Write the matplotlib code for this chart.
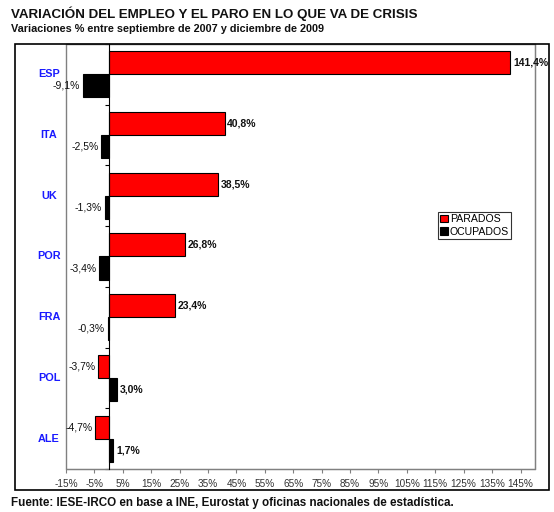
import matplotlib.pyplot as plt
from matplotlib.patches import Rectangle
import numpy as np

plt.rcParams['font.family'] = ['Liberation Sans', 'DejaVu Sans']

paises = ["ESP", "ITA", "UK", "POR", "FRA", "POL", "ALE"]
parados = [141.4, 40.8, 38.5, 26.8, 23.4, -3.7, -4.7]
ocupados = [-9.1, -2.5, -1.3, -3.4, -0.3, 3.0, 1.7]
xticks = list(range(-15, 150, 10))


def etiqueta(v):
    return ("%.1f%%" % v).replace(".", ",")


fig = plt.figure(figsize=(5.54, 5.12), dpi=100)
ax = fig.add_axes([0.1191, 0.0840, 0.8461, 0.8301])

y = np.arange(len(paises))
h = 0.38
ax.barh(y - h / 2, parados, height=h, color="#ff0000", edgecolor="black",
        linewidth=0.8, label="PARADOS")
ax.barh(y + h / 2, ocupados, height=h, color="black", edgecolor="black",
        linewidth=0.8, label="OCUPADOS")

for serie, off in ((parados, -h / 2), (ocupados, h / 2)):
    for i, v in enumerate(serie):
        if v >= 0:
            ax.annotate(etiqueta(v), (v, i + off), xytext=(2, 0),
                        textcoords="offset points", ha="left", va="center",
                        fontsize=7.5, fontweight="bold", color="#111111")
        else:
            ax.annotate(etiqueta(v), (v, i + off), xytext=(-2, 0),
                        textcoords="offset points", ha="right", va="center",
                        fontsize=7.5, color="#111111")

ax.set_xlim(-15, 150)
ax.set_ylim(len(paises) - 0.5, -0.5)
ax.set_xticks(xticks)
ax.set_xticklabels(["%d%%" % t for t in xticks])
ax.tick_params(axis="x", length=3, width=0.8, color="#808080",
               labelsize=7.2, labelcolor="#333333", pad=4)

# eje vertical en el cero con marcas entre paises
ax.spines["left"].set_position(("data", 0))
ax.spines["left"].set_color("black")
ax.spines["left"].set_zorder(3)
ax.set_yticks(np.arange(len(paises) + 1) - 0.5)
ax.set_yticklabels([])
ax.tick_params(axis="y", length=3, width=0.8, direction="out")
for s in ("top", "right", "bottom"):
    ax.spines[s].set_color("#808080")
ax.add_patch(Rectangle((0, 0), 1, 1, transform=ax.transAxes, fill=False,
                       edgecolor="#808080", linewidth=1, clip_on=False))

for i, p in enumerate(paises):
    ax.text(-0.036, i, p, transform=ax.get_yaxis_transform(), ha="center",
            va="center", fontsize=7.8, fontweight="bold", color="#1a1aff")

leg = ax.legend(loc="upper left", bbox_to_anchor=(0.794, 0.604), fontsize=7.6,
                frameon=True, fancybox=False, handlelength=0.7,
                handleheight=0.7, handletextpad=0.2, borderpad=0.2,
                labelspacing=0.2, borderaxespad=0)
leg.get_frame().set_edgecolor("black")
leg.get_frame().set_linewidth(0.8)

fig.patches.append(Rectangle((0.0271, 0.043), 0.9633, 0.8711,
                             transform=fig.transFigure, fill=False,
                             edgecolor="black", linewidth=1.2))

fig.text(0.02, 0.974, "VARIACIÓN DEL EMPLEO Y EL PARO EN LO QUE VA DE CRISIS",
         fontsize=9.6, fontweight="bold", va="center", color="#111111")
fig.text(0.02, 0.943, "Variaciones % entre septiembre de 2007 y diciembre de 2009",
         fontsize=7.85, fontweight="bold", va="center", color="#111111")
fig.text(0.02, 0.017, "Fuente: IESE-IRCO en base a INE, Eurostat y oficinas "
         "nacionales de estadística.", fontsize=8.4, fontweight="bold",
         va="center", color="#111111")

fig.savefig("out.png", dpi=100)
